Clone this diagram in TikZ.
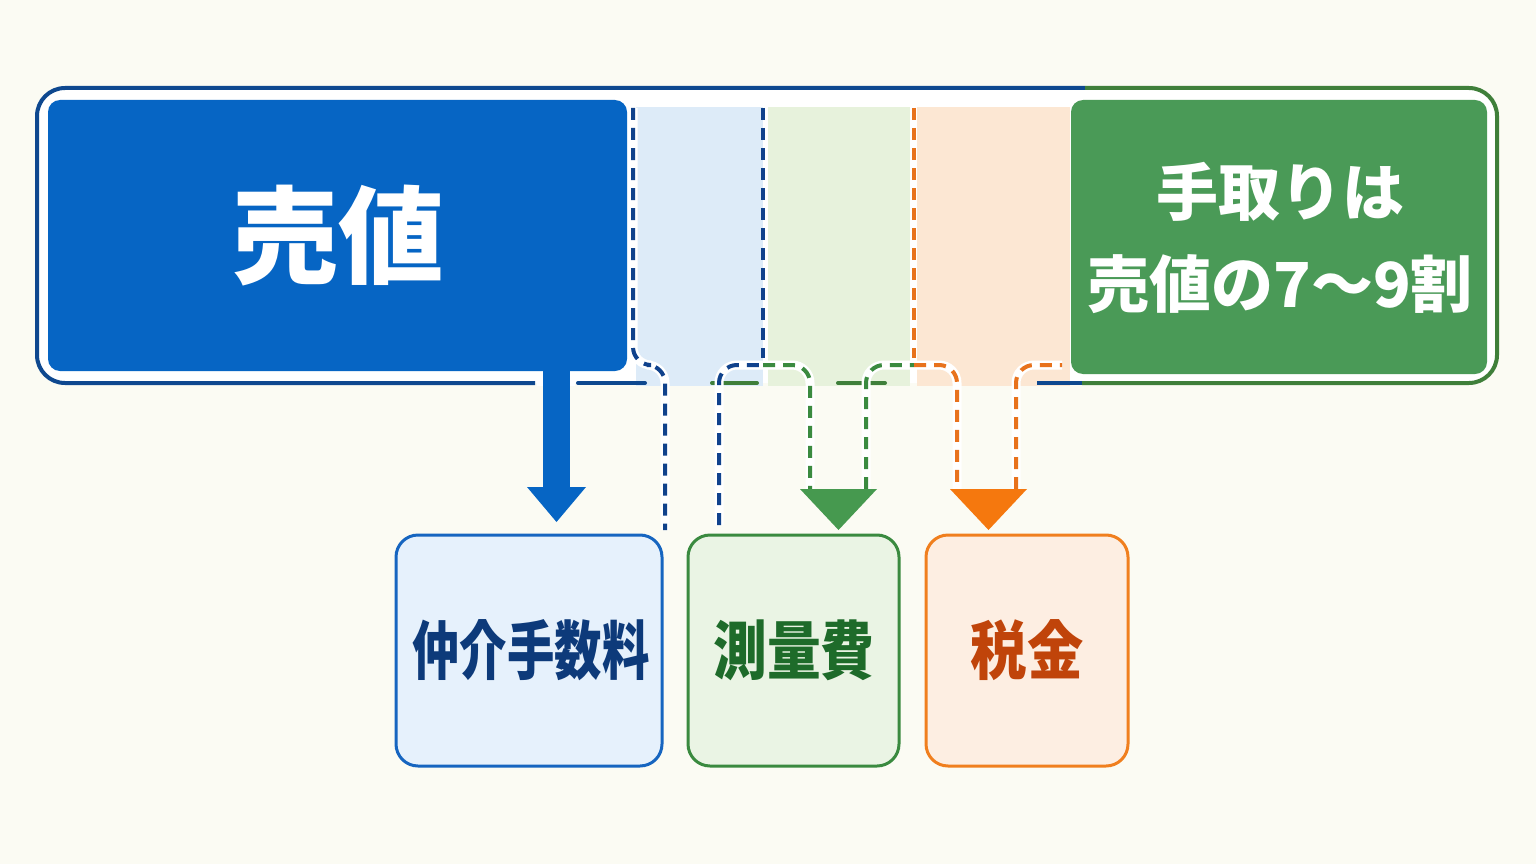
\documentclass[tikz,border=0pt]{standalone}
\usepackage{fontspec}
\newfontfamily\cjk{Noto Sans CJK JP Black}
\definecolor{bg}{RGB}{251,251,243}
\definecolor{mainblue}{RGB}{6,101,196}
\definecolor{frameblue}{RGB}{14,72,143}
\definecolor{framegreen}{RGB}{63,127,58}
\definecolor{boxgreen}{RGB}{74,154,87}
\definecolor{bandblue}{RGB}{221,235,248}
\definecolor{bandgreen}{RGB}{231,242,220}
\definecolor{bandorange}{RGB}{252,231,211}
\definecolor{dblue}{RGB}{16,66,140}
\definecolor{dgreen}{RGB}{58,138,63}
\definecolor{dorange}{RGB}{232,114,28}
\definecolor{headgreen}{RGB}{70,153,79}
\definecolor{headorange}{RGB}{245,120,14}
\definecolor{feefill}{RGB}{230,241,252}
\definecolor{feeline}{RGB}{22,101,192}
\definecolor{feetext}{RGB}{13,58,122}
\definecolor{survfill}{RGB}{234,244,228}
\definecolor{survline}{RGB}{58,138,63}
\definecolor{survtext}{RGB}{30,107,42}
\definecolor{taxfill}{RGB}{253,238,226}
\definecolor{taxline}{RGB}{240,127,30}
\definecolor{taxtext}{RGB}{192,68,10}
\tikzset{
  bigbox/.style={rounded corners=12pt, inner sep=0pt},
  costbox/.style={draw, line width=3pt, rounded corners=22pt, inner sep=0pt, minimum height=231pt},
  dashline/.style={line width=4pt, dash pattern=on 12pt off 8pt, rounded corners=18pt},
  halo/.style={line width=9pt, white, rounded corners=18pt},
  frameline/.style={line width=4pt, rounded corners=28pt},
}
\begin{document}
\begin{tikzpicture}[x=1pt,y=-1pt]
\fill[bg] (0,0) rectangle (1536,864);
\useasboundingbox (0,0) rectangle (1536,864);
% frame interior
\fill[white, rounded corners=28pt] (37,88) rectangle (1497,383);
% bands
\fill[bandblue] (636,107) rectangle (763,386);
\fill[bandgreen] (768,107) rectangle (910,386);
\fill[bandorange] (917,107) rectangle (1070,386);
% frame lines
\draw[frameline, frameblue] (1085,88) -- (37,88) -- (37,383) -- (535,383);
\draw[frameline, frameblue, line cap=round] (578,383) -- (645,383);
\draw[frameline, framegreen, line cap=round] (712,383) -- (757,383);
\draw[frameline, framegreen, line cap=round] (838,383) -- (885,383);
\draw[frameline, frameblue] (1037,383) -- (1084,383);
\draw[frameline, framegreen] (1085,88) -- (1497,88) -- (1497,383) -- (1082,383);
% big boxes
\node[bigbox, fill=mainblue, minimum width=579pt, minimum height=271pt] (sell) at (337.5,235.5) {};
\node[text=white, font=\cjk\fontsize{106}{110}\selectfont] (selltxt) at (338,236) {売値};
\node[bigbox, fill=boxgreen, minimum width=416pt, minimum height=274pt] (net) at (1279,237) {};
\node[text=white, align=center, font=\cjk\fontsize{62}{92}\selectfont] (nettxt) at (1280,238) {手取りは\\売値の7～9割};
% cost boxes
\node[costbox, draw=feeline, fill=feefill, minimum width=266pt] (fee) at (529,650.5) {};
\node[text=feetext, font=\cjk\fontsize{64}{66}\selectfont] (feetxt) at (531,650) {\scalebox{0.74}[1]{仲介手数料}};
\node[costbox, draw=survline, fill=survfill, minimum width=211pt] (surv) at (793.5,650.5) {};
\node[text=survtext, font=\cjk\fontsize{64}{66}\selectfont] (survtxt) at (794,650) {\scalebox{0.84}[1]{測量費}};
\node[costbox, draw=taxline, fill=taxfill, minimum width=202pt] (tax) at (1027,650.5) {};
\node[text=taxtext, font=\cjk\fontsize{64}{66}\selectfont] (taxtxt) at (1027,650) {\scalebox{0.88}[1]{税金}};
% coordinates
\coordinate (d1top) at (633,108);
\coordinate (d2top) at (763,108);
\coordinate (d3top) at (914,108);
% blue solid arrow
\draw[white, line width=38pt] (556,372) -- (556,386);
\draw[mainblue, line width=27pt] (sell.south -| 556,0) -- (556,490);
\fill[mainblue] (527,487) -- (586,487) -- (556.5,522) -- cycle;
% dashed path 1 (blue)
\draw[halo] (633,108) -- (633,365) -- (665,365) -- (665,530);
\draw[dashline, dblue] (d1top) -- (633,365) -- (665,365) -- (665,530);
% dashed path 2
\draw[halo] (719,525) -- (719,365) -- (810,365) -- (810,489);
\draw[dashline, dblue] (d2top) -- (763,358);
\draw[dashline, dblue] (719,525) -- (719,365) -- (763,365);
\draw[dashline, dgreen] (763,365) -- (810,365) -- (810,489);
% dashed path 3
\draw[halo] (866,489) -- (866,365) -- (957,365) -- (957,489);
\draw[dashline, dorange] (d3top) -- (914,358);
\draw[dashline, dgreen] (866,489) -- (866,365) -- (914,365);
\draw[dashline, dorange] (914,365) -- (957,365) -- (957,489);
% dashed path 4
\draw[halo] (1016,489) -- (1016,365) -- (1062,365);
\draw[dashline, dorange] (1016,489) -- (1016,365) -- (1062,365);
% arrowheads
\fill[headgreen] (800,489) -- (877,489) -- (838.5,530) -- cycle;
\fill[headorange] (950,489) -- (1027,489) -- (988.5,530) -- cycle;
\end{tikzpicture}
\end{document}
